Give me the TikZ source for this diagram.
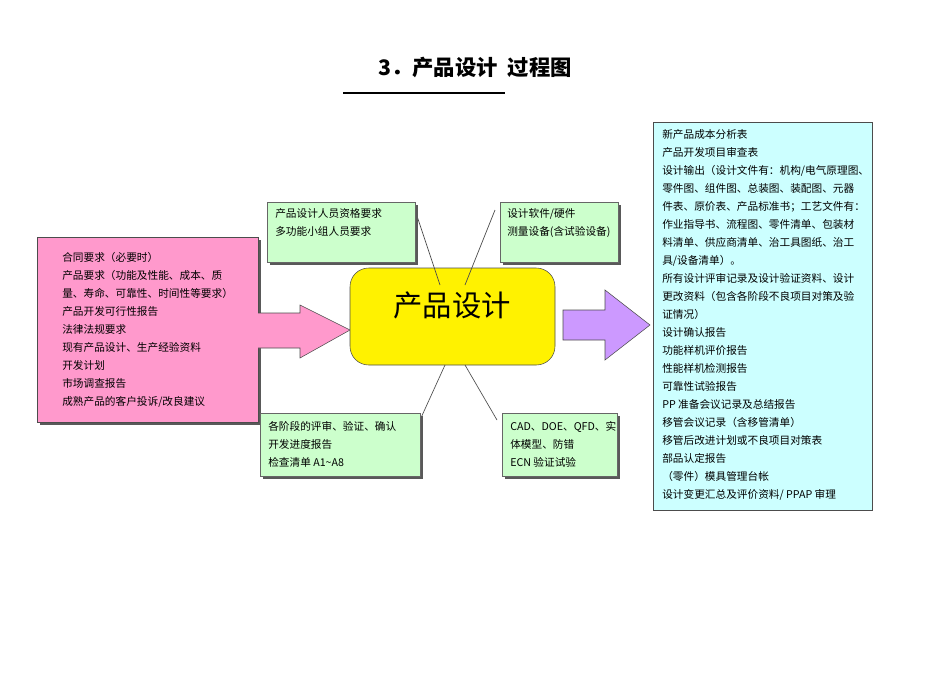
\documentclass[tikz,border=0pt]{standalone}
\usepackage{fontspec}
\setmainfont{Liberation Serif}
\newfontfamily\cjk{Noto Sans CJK SC}
\newfontfamily\cjkb{Noto Sans CJK SC Black}
\definecolor{pinkc}{HTML}{FF99CC}
\definecolor{greenc}{HTML}{CCFFCC}
\definecolor{cyanc}{HTML}{CCFFFF}
\definecolor{purpc}{HTML}{CC99FF}
\begin{document}
\begin{tikzpicture}[x=0.75pt,y=-0.75pt,
  txt/.style={font=\cjk\fontsize{8}{13.5}\selectfont,align=left,anchor=north west,inner sep=0pt},
  gbox/.style={draw=black!60,fill=greenc,line width=0.5pt},
  shad/.style={fill=black!65,draw=none},
  ln/.style={draw=black!70,line width=0.5pt}]
\useasboundingbox (0,0) rectangle (950,672);
% title
\node (title) at (475,67) {\cjkb\fontsize{16}{18}\selectfont 3．产品设计\ \ 过程图};
\draw[line width=1pt] (343,93) -- (505,93);
% pink box
\fill[shad] (40,240) rectangle (261,425);
\draw[fill=pinkc,draw=black!70] (37,237) rectangle (258,422);
\node[txt] (left) at (62,252) {合同要求（必要时）\\产品要求（功能及性能、成本、质\\量、寿命、可靠性、时间性等要求）\\产品开发可行性报告\\法律法规要求\\现有产品设计、生产经验资料\\开发计划\\市场调查报告\\成熟产品的客户投诉/改良建议};
% left arrow
\draw[fill=pinkc,draw=black!70] (258,313) -- (300,313) -- (300,305) -- (350,330) -- (300,358) -- (300,348) -- (258,348);
% central
\draw[fill=yellow,draw=black!70,rounded corners=14pt] (350,268) rectangle (555,365);
\node (ctext) at (452,305) {\cjk\fontsize{22}{24}\selectfont 产品设计};
% connector lines
\draw[ln] (415,210) -- (440,285);
\draw[ln] (495,210) -- (465,285);
\draw[ln] (445,365) -- (420,420);
\draw[ln] (465,365) -- (497,420);
% green boxes
\fill[shad] (270,205) rectangle (418,265);
\draw[gbox] (267,202) rectangle (415,262);
\node[txt] (g1) at (275,208) {产品设计人员资格要求\\多功能小组人员要求};
\fill[shad] (503,205) rectangle (621,265);
\draw[gbox] (500,202) rectangle (618,262);
\node[txt] (g2) at (507,208) {设计软件/硬件\\测量设备(含试验设备)};
\fill[shad] (263,416) rectangle (423,479);
\draw[gbox] (260,413) rectangle (420,476);
\node[txt] (g3) at (268,421) {各阶段的评审、验证、确认\\开发进度报告\\检查清单 A1\textasciitilde A8};
\fill[shad] (505,416) rectangle (620,479);
\draw[gbox] (502,413) rectangle (617,476);
\node[txt] (g4) at (510,421) {CAD、DOE、QFD、实\\体模型、防错\\ECN 验证试验};
% right arrow
\draw[fill=purpc,draw=black!70] (563,310) -- (605,310) -- (605,290) -- (650,325) -- (605,360) -- (605,340) -- (563,340) -- cycle;
% right box
\draw[fill=cyanc,draw=black!70] (653,122) rectangle (872,510);
\node[txt] (right) at (662,129) {新产品成本分析表\\产品开发项目审查表\\设计输出（设计文件有：机构/电气原理图、\\零件图、组件图、总装图、装配图、元器\\件表、原价表、产品标准书；工艺文件有：\\作业指导书、流程图、零件清单、包装材\\料清单、供应商清单、治工具图纸、治工\\具/设备清单）。\\所有设计评审记录及设计验证资料、设计\\更改资料（包含各阶段不良项目对策及验\\证情况）\\设计确认报告\\功能样机评价报告\\性能样机检测报告\\可靠性试验报告\\PP 准备会议记录及总结报告\\移管会议记录（含移管清单）\\移管后改进计划或不良项目对策表\\部品认定报告\\（零件）模具管理台帐\\设计变更汇总及评价资料/ PPAP 审理};
\end{tikzpicture}
\end{document}
